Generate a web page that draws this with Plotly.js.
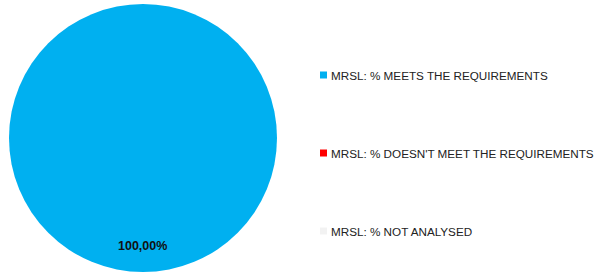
<!DOCTYPE html>
<html><head><meta charset="utf-8">
<script src="https://cdn.plot.ly/plotly-3.0.1.min.js"></script>
<style>html,body{margin:0;padding:0;background:#fff}#c{width:601px;height:275px}</style>
</head><body><div id="c"></div>
<script>
const categories = ["MRSL: % MEETS THE REQUIREMENTS", "MRSL: % DOESN'T MEET THE REQUIREMENTS", "MRSL: % NOT ANALYSED"];
const values = [100, 0, 0];
const colors = ["#00B0F0", "#FF0000", "#F2F2F2"];

const W = 601, H = 275;
const total = values.reduce((a, b) => a + b, 0);
const fmt = v => (v / total * 100).toFixed(2).replace('.', ',') + '%';

const shapes = [], annotations = [];
categories.forEach((c, i) => {
  const yc = 75 + i * 78;
  shapes.push({type: 'rect', xref: 'paper', yref: 'paper',
    x0: 320 / W, x1: 327 / W, y0: 1 - (yc + 3.5) / H, y1: 1 - (yc - 3.5) / H,
    fillcolor: colors[i], line: {width: 0}});
  annotations.push({xref: 'paper', yref: 'paper', x: 329 / W, y: 1 - yc / H,
    xanchor: 'left', yanchor: 'middle', showarrow: false, text: c,
    font: {family: 'Liberation Sans, Arial, sans-serif', size: 11.7, color: '#222'}});
});
const maxI = values.indexOf(Math.max(...values));
annotations.push({xref: 'paper', yref: 'paper', x: 142 / W, y: 1 - 246 / H,
  xanchor: 'center', yanchor: 'middle', showarrow: false, text: '<b>' + fmt(values[maxI]) + '</b>',
  font: {family: 'Liberation Sans, Arial, sans-serif', size: 12.5, color: '#111'}});

Plotly.newPlot('c', [{
  type: 'pie', labels: categories, values: values, sort: false,
  marker: {colors: colors, line: {width: 0}},
  textinfo: 'none', hoverinfo: 'label+percent',
  domain: {x: [9 / W, 277 / W], y: [3 / H, 271 / H]},
  showlegend: false
}], {
  width: W, height: H, margin: {l: 0, r: 0, t: 0, b: 0},
  paper_bgcolor: '#fff', plot_bgcolor: '#fff',
  shapes: shapes, annotations: annotations, showlegend: false
}, {displayModeBar: false, staticPlot: true});
</script></body></html>
